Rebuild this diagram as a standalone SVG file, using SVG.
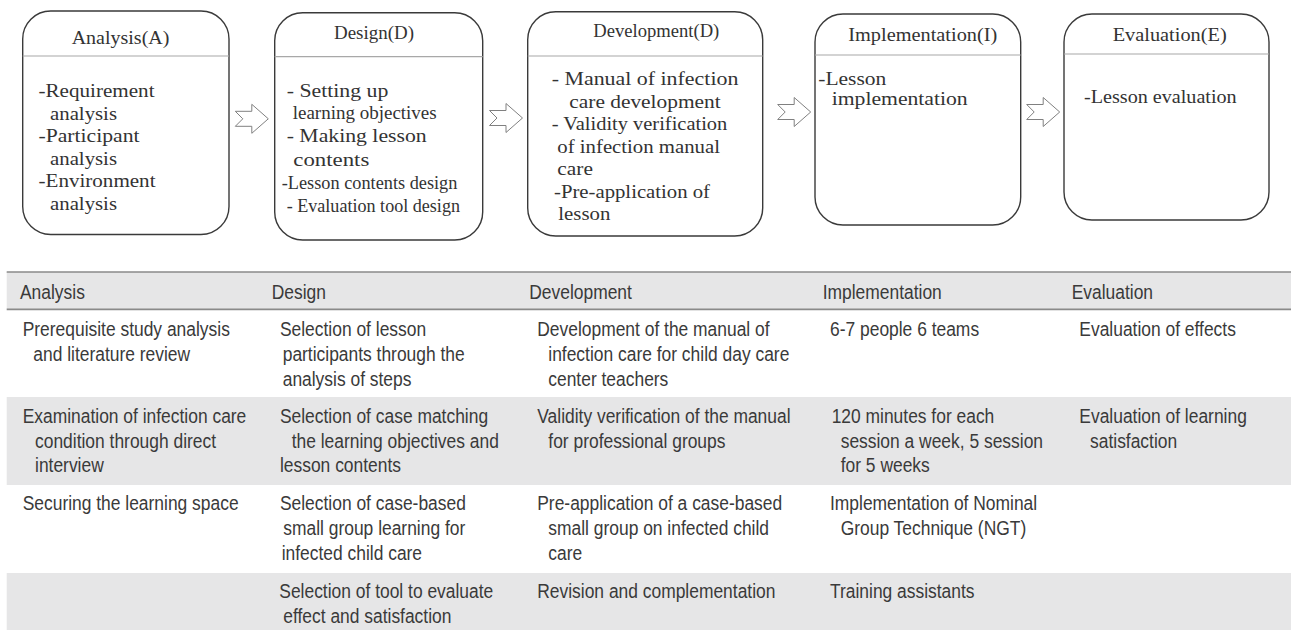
<svg xmlns="http://www.w3.org/2000/svg" width="1291" height="630" viewBox="0 0 1291 630">
<style>
.box{fill:#fff;stroke:#3a3a3a;stroke-width:1.4}
.hl{stroke:#a8a8a8;stroke-width:1.2}
.bt{font-family:"Liberation Serif","Times New Roman",serif;font-size:19px;fill:#333}
.ht{font-family:"Liberation Serif","Times New Roman",serif;font-size:18px;fill:#333}
.tt{font-family:"Liberation Sans",Arial,sans-serif;font-size:21px;fill:#3a3a3a}
.arr{fill:#fff;stroke:#808080;stroke-width:1}
.gray{fill:#e6e6e7}
.tl{stroke:#8a8a8a;stroke-width:1.7}
</style>
<defs>
<path id="arrow" d="M0,-7.5 H16.5 V-14.5 L33,0 L16.5,14.5 V7.5 H0 L7.5,0 Z"/>
</defs>
<rect width="1291" height="630" fill="#fff"/>

<g id="node-analysis">
<rect class="box" x="22.7" y="11" width="206.3" height="223.5" rx="28"/>
<line class="hl" x1="22.7" y1="56" x2="229" y2="56"/>
<text class="ht" x="71.7" y="44.3" textLength="97.7" lengthAdjust="spacingAndGlyphs">Analysis(A)</text>
<text class="bt" x="38.5" y="97" textLength="116" lengthAdjust="spacingAndGlyphs">-Requirement</text>
<text class="bt" x="50" y="119.5" textLength="67" lengthAdjust="spacingAndGlyphs">analysis</text>
<text class="bt" x="38.5" y="142" textLength="101" lengthAdjust="spacingAndGlyphs">-Participant</text>
<text class="bt" x="50" y="164.5" textLength="67" lengthAdjust="spacingAndGlyphs">analysis</text>
<text class="bt" x="38.5" y="187" textLength="117" lengthAdjust="spacingAndGlyphs">-Environment</text>
<text class="bt" x="50" y="209.5" textLength="67" lengthAdjust="spacingAndGlyphs">analysis</text>
</g>

<g id="node-design">
<rect class="box" x="274.7" y="12.7" width="208" height="227.3" rx="28"/>
<line class="hl" x1="274.7" y1="56.7" x2="482.7" y2="56.7"/>
<text class="ht" x="334" y="38.5" textLength="80" lengthAdjust="spacingAndGlyphs">Design(D)</text>
<text class="bt" x="286.7" y="97" textLength="101.7" lengthAdjust="spacingAndGlyphs">- Setting up</text>
<text class="bt" x="292.7" y="119" textLength="144" lengthAdjust="spacingAndGlyphs">learning objectives</text>
<text class="bt" x="286.7" y="141.7" textLength="140" lengthAdjust="spacingAndGlyphs">- Making lesson</text>
<text class="bt" x="293.3" y="166.3" textLength="76" lengthAdjust="spacingAndGlyphs">contents</text>
<text class="bt" x="281.7" y="189" textLength="175.7" lengthAdjust="spacingAndGlyphs">-Lesson contents design</text>
<text class="bt" x="286.7" y="212" textLength="173.3" lengthAdjust="spacingAndGlyphs">- Evaluation tool design</text>
</g>

<g id="node-development">
<rect class="box" x="527.7" y="11.7" width="235" height="224.3" rx="28"/>
<line class="hl" x1="527.7" y1="56" x2="762.7" y2="56"/>
<text class="ht" x="593.3" y="36.5" textLength="126" lengthAdjust="spacingAndGlyphs">Development(D)</text>
<text class="bt" x="551.7" y="85" textLength="186.7" lengthAdjust="spacingAndGlyphs">- Manual of  infection</text>
<text class="bt" x="569.3" y="107.5" textLength="151.4" lengthAdjust="spacingAndGlyphs">care  development</text>
<text class="bt" x="551.7" y="130" textLength="175.6" lengthAdjust="spacingAndGlyphs">- Validity verification</text>
<text class="bt" x="557.3" y="152.5" textLength="162.7" lengthAdjust="spacingAndGlyphs">of infection manual</text>
<text class="bt" x="557.3" y="175" textLength="35.6" lengthAdjust="spacingAndGlyphs">care</text>
<text class="bt" x="554" y="197.5" textLength="156" lengthAdjust="spacingAndGlyphs">-Pre-application  of</text>
<text class="bt" x="558.3" y="220" textLength="52" lengthAdjust="spacingAndGlyphs">lesson</text>
</g>

<g id="node-implementation">
<rect class="box" x="815" y="14" width="205.7" height="211" rx="28"/>
<line class="hl" x1="815" y1="55" x2="1020.7" y2="55"/>
<text class="ht" x="848.3" y="40.7" textLength="149" lengthAdjust="spacingAndGlyphs">Implementation(I)</text>
<text class="bt" x="818.3" y="85" textLength="68" lengthAdjust="spacingAndGlyphs">-Lesson</text>
<text class="bt" x="831.7" y="105" textLength="136" lengthAdjust="spacingAndGlyphs">implementation</text>
</g>

<g id="node-evaluation">
<rect class="box" x="1064" y="14" width="205" height="206" rx="28"/>
<line class="hl" x1="1064" y1="54" x2="1269" y2="54"/>
<text class="ht" x="1112.7" y="40.7" textLength="114" lengthAdjust="spacingAndGlyphs">Evaluation(E)</text>
<text class="bt" x="1084" y="102.7" textLength="152.7" lengthAdjust="spacingAndGlyphs">-Lesson evaluation</text>
</g>

<g id="connectors">
<use href="#arrow" class="arr" x="235.3" y="118.8"/>
<use href="#arrow" class="arr" x="489.5" y="118"/>
<use href="#arrow" class="arr" x="777.7" y="112"/>
<use href="#arrow" class="arr" x="1026.7" y="112"/>
</g>

<g id="table">
<rect class="gray" x="6.7" y="272" width="1284.3" height="37.3"/>
<rect class="gray" x="6.7" y="397" width="1284.3" height="88"/>
<rect class="gray" x="6.7" y="573" width="1284.3" height="57"/>
<line class="tl" x1="6.7" y1="272" x2="1291" y2="272"/>
<line class="tl" x1="6.7" y1="309.3" x2="1291" y2="309.3"/>
<g transform="scale(0.83,1)">
<text class="tt" x="24.1" y="299">Analysis</text>
<text class="tt" x="327.3" y="299">Design</text>
<text class="tt" x="637.7" y="299">Development</text>
<text class="tt" x="991.2" y="299">Implementation</text>
<text class="tt" x="1291.2" y="299">Evaluation</text>

<text class="tt" x="27.35" y="336">Prerequisite study analysis</text>
<text class="tt" x="40.1" y="361">and literature review</text>
<text class="tt" x="337.3" y="336">Selection of lesson</text>
<text class="tt" x="340.6" y="361">participants through the</text>
<text class="tt" x="340.6" y="386">analysis of steps</text>
<text class="tt" x="647.3" y="336">Development of the manual of</text>
<text class="tt" x="660.6" y="361">infection care for child day care</text>
<text class="tt" x="660.6" y="386">center teachers</text>
<text class="tt" x="1000" y="336">6-7 people 6 teams</text>
<text class="tt" x="1300.4" y="336">Evaluation of effects</text>

<text class="tt" x="27.35" y="423">Examination of infection care</text>
<text class="tt" x="42.2" y="448">condition through direct</text>
<text class="tt" x="42.2" y="472">interview</text>
<text class="tt" x="337.3" y="423">Selection of case matching</text>
<text class="tt" x="351.4" y="448">the learning objectives and</text>
<text class="tt" x="337.3" y="472">lesson contents</text>
<text class="tt" x="647.3" y="423">Validity verification of the manual</text>
<text class="tt" x="660.6" y="448">for professional groups</text>
<text class="tt" x="1002" y="423">120 minutes for each</text>
<text class="tt" x="1012.9" y="448">session a week, 5 session</text>
<text class="tt" x="1012.9" y="472">for 5 weeks</text>
<text class="tt" x="1300.4" y="423">Evaluation of learning</text>
<text class="tt" x="1313.3" y="448">satisfaction</text>

<text class="tt" x="27.35" y="510">Securing the learning space</text>
<text class="tt" x="337.3" y="510">Selection of case-based</text>
<text class="tt" x="341.3" y="535">small group learning for</text>
<text class="tt" x="339.4" y="560">infected child care</text>
<text class="tt" x="647.3" y="510">Pre-application of a case-based</text>
<text class="tt" x="660.6" y="535">small group on infected child</text>
<text class="tt" x="660.6" y="560">care</text>
<text class="tt" x="1000" y="510">Implementation of Nominal</text>
<text class="tt" x="1012.9" y="535">Group Technique (NGT)</text>

<text class="tt" x="336.5" y="598">Selection of tool to evaluate</text>
<text class="tt" x="341.3" y="623">effect and satisfaction</text>
<text class="tt" x="647.3" y="598">Revision and complementation</text>
<text class="tt" x="1000" y="598">Training assistants</text>
</g>
</g>
</svg>
